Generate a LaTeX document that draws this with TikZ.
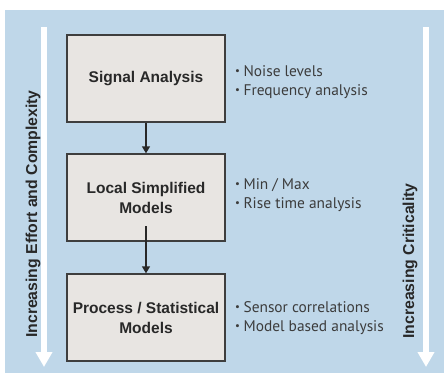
\documentclass[tikz,border=0pt]{standalone}
\usepackage{fontspec}
\setmainfont{Liberation Sans}
\newfontfamily\bulletfont{PT Sans}
\usetikzlibrary{arrows.meta}
\definecolor{bgblue}{RGB}{191,215,233}
\definecolor{boxfill}{RGB}{232,229,226}
\definecolor{boxline}{RGB}{62,62,62}
\definecolor{txtdark}{RGB}{40,40,40}
\definecolor{txtbul}{RGB}{60,60,60}
\newcommand\mybul{\raisebox{0.3ex}{\scalebox{0.7}{\textbullet}}\hspace{3.5pt}}
\tikzset{
  stagebox/.style={draw=boxline, fill=boxfill, line width=1.4pt, minimum width=158pt, minimum height=87pt, align=center, font=\fontsize{15.5}{20}\selectfont\bfseries, text=txtdark, inner sep=0pt},
  bullets/.style={anchor=west, align=left, inner sep=0pt, font=\bulletfont\fontsize{15.4}{19}\selectfont, text=txtbul},
  sidelabel/.style={rotate=90, font=\fontsize{15.8}{18}\selectfont\bfseries, text=txtdark, inner sep=0pt},
  bigarrow/.style={draw=white, line width=6pt, -{Triangle[width=16pt,length=15pt]}},
  conn/.style={draw=txtdark, line width=1.5pt, -{Triangle[width=8pt,length=7pt]}}
}
\begin{document}
\begin{tikzpicture}[x=1pt,y=-1pt]
\useasboundingbox (0,0) rectangle (444,376);
\fill[bgblue] (5,10) rectangle (444,373);
\coordinate (la) at (44,27);
\coordinate (lb) at (44,367);
\coordinate (ra) at (426,27);
\coordinate (rb) at (426,367);
\draw[bigarrow] (la) -- (lb);
\draw[bigarrow] (ra) -- (rb);
\node[sidelabel] (effort) at (33,214) {Increasing Effort and Complexity};
\node[sidelabel] (crit) at (410,261) {Increasing Criticality};
\node[stagebox] (s1) at (146,78.5) {Signal Analysis};
\node[stagebox] (s2) at (146,197.5) {Local Simplified\\Models};
\node[stagebox] (s3) at (146,317.5) {Process / Statistical\\Models};
\coordinate (s2out) at (146,226);
\draw[conn] (s1.south) -- (s2.north);
\draw[conn] (s2out) -- (s3.north);
\node[bullets] (b1) at (235,82.5) {\mybul Noise levels\\\mybul Frequency analysis};
\node[bullets] (b2) at (235,195.5) {\mybul Min / Max\\\mybul Rise time analysis};
\node[bullets] (b3) at (235,318.5) {\mybul Sensor correlations\\\mybul Model based analysis};
\end{tikzpicture}
\end{document}
